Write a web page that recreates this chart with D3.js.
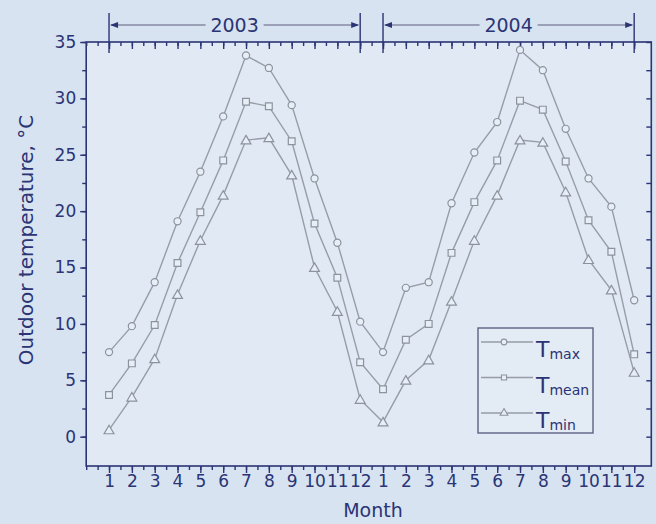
<!DOCTYPE html>
<html>
<head>
<meta charset="utf-8">
<script src="https://cdn.jsdelivr.net/npm/d3@7/dist/d3.min.js"></script>
<style>
  html, body { margin: 0; padding: 0; background: #d7e3f0; }
  svg { display: block; }
  text { font-family: "DejaVu Sans", sans-serif; fill: #2b3475; }
</style>
</head>
<body>
<svg id="chart" width="656" height="524"></svg>
<script>
// ---- data ----
const monthLabels = ["1","2","3","4","5","6","7","8","9","10","11","12",
                     "1","2","3","4","5","6","7","8","9","10","11","12"];
const tmax  = [7.5, 9.8, 13.7, 19.1, 23.5, 28.4, 33.8, 32.7, 29.4, 22.9, 17.2, 10.2,
               7.5, 13.2, 13.7, 20.7, 25.2, 27.9, 34.3, 32.5, 27.3, 22.9, 20.4, 12.1];
const tmean = [3.7, 6.5, 9.9, 15.4, 19.9, 24.5, 29.7, 29.3, 26.2, 18.9, 14.1, 6.6,
               4.2, 8.6, 10.0, 16.3, 20.8, 24.5, 29.8, 29.0, 24.4, 19.2, 16.4, 7.3];
const tmin  = [0.6, 3.5, 6.9, 12.6, 17.4, 21.4, 26.3, 26.5, 23.2, 15.0, 11.1, 3.3,
               1.3, 5.0, 6.8, 12.0, 17.4, 21.4, 26.3, 26.1, 21.7, 15.7, 13.0, 5.7];
const yTicks = [0, 5, 10, 15, 20, 25, 30, 35];
const years = ["2003", "2004"];
const seriesNames = ["max", "mean", "min"];

// ---- layout ----
const svg = d3.select("#chart");
const L = 86.2, R = 651.3, T = 42, B = 466;
const x = d3.scaleLinear().domain([0, 24.75]).range([L, R]);
const y = d3.scaleLinear().domain([-2.6, 35]).range([B, T]);
const navy = "#2b3475";
const idx = d3.range(1, 25);
const halfIdx = d3.range(0, 49).map(i => i / 2).filter(v => v <= 24.75);
const minorY = d3.range(0, 36, 2.5);

// plot background
svg.append("rect").attr("x", L).attr("y", T).attr("width", R - L).attr("height", B - T)
  .attr("fill", "#e1eaf4");

function styleAxis(g) {
  g.select(".domain").remove();
  g.selectAll("line").attr("stroke", navy).attr("stroke-width", 1.4);
  g.selectAll("text").style("font-family", "DejaVu Sans, sans-serif")
    .style("font-size", "17px").attr("fill", navy);
}

// bottom axis: minor + major
svg.append("g").attr("transform", `translate(0,${B})`)
  .call(d3.axisBottom(x).tickValues(halfIdx).tickSize(4).tickFormat(""))
  .call(styleAxis);
svg.append("g").attr("transform", `translate(0,${B})`)
  .call(d3.axisBottom(x).tickValues(idx).tickSize(7).tickPadding(2)
        .tickFormat((d, i) => monthLabels[i]))
  .call(styleAxis);
// top axis (ticks inward)
svg.append("g").attr("transform", `translate(0,${T})`)
  .call(d3.axisBottom(x).tickValues(halfIdx).tickSize(4).tickFormat(""))
  .call(styleAxis);
svg.append("g").attr("transform", `translate(0,${T})`)
  .call(d3.axisBottom(x).tickValues(idx).tickSize(7).tickFormat(""))
  .call(styleAxis);
// left axis
svg.append("g").attr("transform", `translate(${L},0)`)
  .call(d3.axisLeft(y).tickValues(minorY).tickSize(4).tickFormat(""))
  .call(styleAxis);
svg.append("g").attr("transform", `translate(${L},0)`)
  .call(d3.axisLeft(y).tickValues(yTicks).tickSize(6).tickPadding(4).tickFormat(d3.format("d")))
  .call(styleAxis);
// right axis (ticks inward)
svg.append("g").attr("transform", `translate(${R},0)`)
  .call(d3.axisLeft(y).tickValues(minorY).tickSize(5).tickFormat(""))
  .call(styleAxis);

// frame
svg.append("rect").attr("x", L).attr("y", T).attr("width", R - L).attr("height", B - T)
  .attr("fill", "none").attr("stroke", navy).attr("stroke-width", 1.6);

// axis titles
svg.append("text").attr("x", 373).attr("y", 517).attr("text-anchor", "middle")
  .style("font-size", "19px").text("Month");
svg.append("text").attr("transform", "translate(33,240) rotate(-90)")
  .attr("text-anchor", "middle").style("font-size", "20px")
  .text("Outdoor temperature, \u00B0C");

// year brackets
const grey = "#9aa0b6";
years.forEach((yr, k) => {
  const x0 = x(1 + 12 * k), x1 = x(12 + 12 * k), xm = (x0 + x1) / 2, yl = 25;
  const g = svg.append("g");
  [x0, x1].forEach(xx => g.append("line").attr("x1", xx).attr("x2", xx)
      .attr("y1", 13).attr("y2", 53).attr("stroke", navy).attr("stroke-width", 1.4));
  g.append("text").attr("x", xm).attr("y", 32).attr("text-anchor", "middle")
    .style("font-size", "19px").text(yr);
  const hw = 29;
  g.append("line").attr("x1", x0 + 2).attr("x2", xm - hw).attr("y1", yl).attr("y2", yl)
    .attr("stroke", grey).attr("stroke-width", 2);
  g.append("line").attr("x1", xm + hw).attr("x2", x1 - 2).attr("y1", yl).attr("y2", yl)
    .attr("stroke", grey).attr("stroke-width", 2);
  g.append("path").attr("d", `M${x0 + 1},${yl} l8,-3 v6 z`).attr("fill", navy);
  g.append("path").attr("d", `M${x1 - 1},${yl} l-8,-3 v6 z`).attr("fill", navy);
});

// series
const lineCol = "#979da8", markStroke = "#8c929e", markFill = "#e7eef6";
const series = [tmax, tmean, tmin];
const symbols = [d3.symbolCircle, d3.symbolSquare, d3.symbolTriangle];
const symSizes = [40, 46, 42];
const line = d3.line().x((d, i) => x(i + 1)).y(d => y(d));
series.forEach((s, k) => {
  svg.append("path").datum(s).attr("d", line).attr("fill", "none")
    .attr("stroke", lineCol).attr("stroke-width", 1.4);
  svg.append("g").selectAll("path").data(s).join("path")
    .attr("transform", (d, i) => `translate(${x(i + 1)},${y(d) + (k === 2 ? 1 : 0)})`)
    .attr("d", d3.symbol().type(symbols[k]).size(symSizes[k]))
    .attr("fill", markFill).attr("stroke", markStroke).attr("stroke-width", 1.2);
});

// legend
const lg = svg.append("g");
lg.append("rect").attr("x", 478).attr("y", 328).attr("width", 115).attr("height", 105)
  .attr("fill", "#e3ebf4").attr("stroke", "#5d6383").attr("stroke-width", 1.4);
seriesNames.forEach((nm, k) => {
  const ly = 342 + k * 35.5;
  lg.append("line").attr("x1", 481).attr("x2", 533).attr("y1", ly).attr("y2", ly)
    .attr("stroke", lineCol).attr("stroke-width", 1.3);
  lg.append("path").attr("transform", `translate(504,${ly})`)
    .attr("d", d3.symbol().type(symbols[k]).size(26))
    .attr("fill", markFill).attr("stroke", markStroke).attr("stroke-width", 1.1);
  const t = lg.append("text").attr("x", 536).attr("y", ly + 15).style("font-size", "22px");
  t.append("tspan").text("T");
  t.append("tspan").attr("dy", 2).style("font-size", "14px").text(nm);
});
</script>
</body>
</html>
